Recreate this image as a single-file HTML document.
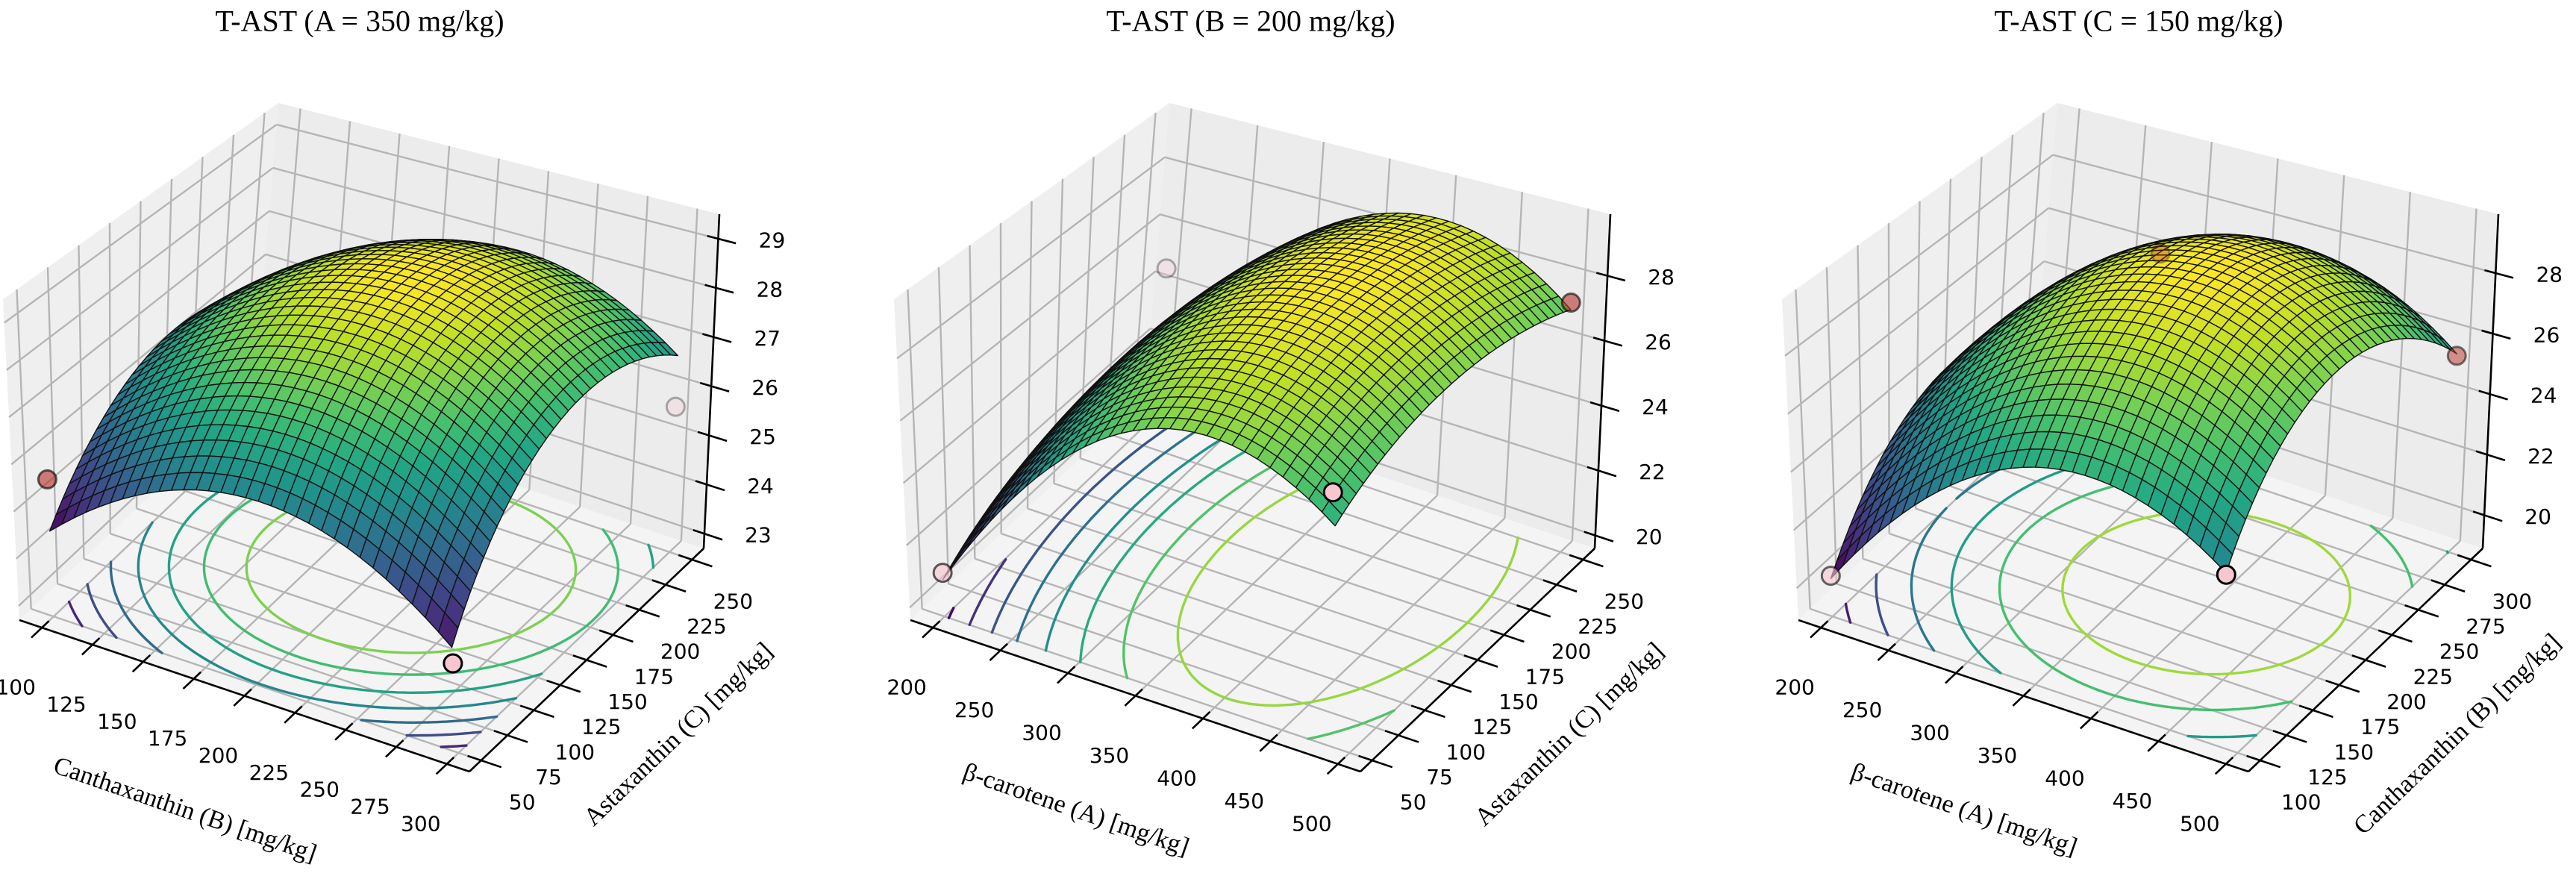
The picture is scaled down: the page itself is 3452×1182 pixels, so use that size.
<!DOCTYPE html>
<html><head><meta charset="utf-8">
<style>html,body{margin:0;padding:0;background:#fff}svg{display:block}</style>
</head><body>
<svg id="chart" width="3452" height="1182" viewBox="0 0 3452 1182" xmlns="http://www.w3.org/2000/svg"></svg>
<script>
// ---------- Panel 1 data ----------
const p1Title = "T-AST (A = 350 mg/kg)";
const p1XLabel = "Canthaxanthin (B) [mg/kg]";
const p1YLabel = "Astaxanthin (C) [mg/kg]";
const p1XRange = [100, 300];
const p1YRange = [50, 250];
const p1ZLim = [22.7, 29.5];
const p1XTicks = [100, 125, 150, 175, 200, 225, 250, 275, 300];
const p1YTicks = [50, 75, 100, 125, 150, 175, 200, 225, 250];
const p1ZTicks = [23, 24, 25, 26, 27, 28, 29];
const p1Coef = [28.75, 0.375, 0.725, -1.84, -1.58, 0.275];
const p1Levels = [24.5, 25, 25.5, 26, 26.5, 27, 27.5, 28];
const p1PtX = [100, 300, 300];
const p1PtY = [50, 250, 50];
const p1PtZ = [25.6, 25.66, 24.4];
const p1PtColor = ["#b5342c", "#f7c6cf", "#f7c6cf"];
// ---------- Panel 2 data ----------
const p2Title = "T-AST (B = 200 mg/kg)";
const p2XLabel = "\u03b2-carotene (A) [mg/kg]";
const p2YLabel = "Astaxanthin (C) [mg/kg]";
const p2XRange = [200, 500];
const p2YRange = [50, 250];
const p2ZLim = [19.6, 29.9];
const p2XTicks = [200, 250, 300, 350, 400, 450, 500];
const p2YTicks = [50, 75, 100, 125, 150, 175, 200, 225, 250];
const p2ZTicks = [20, 22, 24, 26, 28];
const p2Coef = [28.85, 2.6, 0.55, -3.84, -1.0, -0.075];
const p2Levels = [21, 22, 23, 24, 25, 26, 27, 28];
const p2PtX = [200, 200, 500, 500];
const p2PtY = [50, 250, 50, 250];
const p2PtZ = [21.0, 24.7, 27.1, 27.3];
const p2PtColor = ["#f7c6cf", "#f7c6cf", "#f7c6cf", "#b5342c"];
// ---------- Panel 3 data ----------
const p3Title = "T-AST (C = 150 mg/kg)";
const p3XLabel = "\u03b2-carotene (A) [mg/kg]";
const p3YLabel = "Canthaxanthin (B) [mg/kg]";
const p3XRange = [200, 500];
const p3YRange = [100, 300];
const p3ZLim = [18.9, 29.95];
const p3XTicks = [200, 250, 300, 350, 400, 450, 500];
const p3YTicks = [100, 125, 150, 175, 200, 225, 250, 275, 300];
const p3ZTicks = [20, 22, 24, 26, 28];
const p3Coef = [29.6, 2.0, 0.63, -3.64, -3.0, -0.125];
const p3Levels = [21, 22.5, 24, 25.5, 27, 28.5];
const p3PtX = [200, 277, 500, 500];
const p3PtY = [100, 300, 100, 300];
const p3PtZ = [20.3, 26.0, 24.4, 25.4];
const p3PtColor = ["#f7c6cf", "#a82020", "#f7c6cf", "#b5342c"];

const NS = "http://www.w3.org/2000/svg";
const svg = document.getElementById("chart");
function mk(tag, attrs, parent) {
  const el = document.createElementNS(NS, tag);
  for (const k in attrs) el.setAttribute(k, attrs[k]);
  (parent || svg).appendChild(el);
  return el;
}
const VIR = [[68,1,84],[72,36,117],[65,68,135],[53,95,141],[42,120,142],[33,145,140],[34,168,132],[68,191,112],[122,209,81],[189,223,38],[253,231,37]];
function vir(t) {
  t = Math.max(0, Math.min(1, t));
  const x = t * 10, i = Math.min(9, Math.floor(x)), f = x - i;
  const a = VIR[i], b = VIR[i + 1];
  return "rgb(" + [0,1,2].map(k => Math.round(a[k] + (b[k] - a[k]) * f)).join(",") + ")";
}
// box corner geometry (panel frame)
const CL = [26,831], CF = [629,1034], CR = [943,735], CB = [340,532];
const TL = [4,401], TF = [595,550], TR = [964,287], TB = [373,138];

function drawPanel(ox, title, xl, yl, xr, yr, zl, xt, yt, zt, coef, levels, px, py, pz, pc) {
  const g = mk("g", {});
  
  
  function P(u, v, w) {
    const a = (1-u)*(1-v), b = u*(1-v), c = u*v, d = (1-u)*v;
    const bx = a*CL[0]+b*CF[0]+c*CR[0]+d*CB[0], by = a*CL[1]+b*CF[1]+c*CR[1]+d*CB[1];
    const tx = a*TL[0]+b*TF[0]+c*TR[0]+d*TB[0], ty = a*TL[1]+b*TF[1]+c*TR[1]+d*TB[1];
    return [ox + bx + (tx - bx) * w, by + (ty - by) * w];
  }
  const xu = x => 0.05 + 0.9 * (x - xr[0]) / (xr[1] - xr[0]);
  const yv = y => 0.05 + 0.9 * (y - yr[0]) / (yr[1] - yr[0]);
  const zw = z => (z - zl[0]) / (zl[1] - zl[0]);
  const f = (s, t) => coef[0] + coef[1]*s + coef[2]*t + coef[3]*s*s + coef[4]*t*t + coef[5]*s*t;
  const pts = arr => arr.map(p => p[0].toFixed(1) + "," + p[1].toFixed(1)).join(" ");
  const depth = (u, v, w) => 0.433*u - 0.75*v + 0.375*w;

  const floor = mk("polygon", {points: pts([P(0,0,0),P(1,0,0),P(1,1,0),P(0,1,0)]), fill: "#f4f4f4"}, g);
  
  
  const lw = mk("polygon", {points: pts([P(0,0,0),P(0,1,0),P(0,1,1),P(0,0,1)]), fill: "#efefef"}, g);
  
  
  const bw = mk("polygon", {points: pts([P(0,1,0),P(1,1,0),P(1,1,1),P(0,1,1)]), fill: "#ececec"}, g);
  
  

  const gl = (a, b) => {
    const l = mk("line", {x1: a[0], y1: a[1], x2: b[0], y2: b[1], stroke: "#b5b5b5", "stroke-width": 2.4}, g);
    
    
  };
  xt.forEach(x => { const u = xu(x); gl(P(u,0,0), P(u,1,0)); gl(P(u,1,0), P(u,1,1)); });
  yt.forEach(y => { const v = yv(y); gl(P(0,v,0), P(1,v,0)); gl(P(0,v,0), P(0,v,1)); });
  zt.forEach(z => { const w = zw(z); gl(P(0,0,w), P(0,1,w)); gl(P(0,1,w), P(1,1,w)); });

  const al = (a, b, name) => {
    const l = mk("line", {x1: a[0], y1: a[1], x2: b[0], y2: b[1], stroke: "#000", "stroke-width": 2.6}, g);
    
    
  };
  al(P(0,0,0), P(1,0,0), 'x-axis-line');
  al(P(1,0,0), P(1,1,0), 'y-axis-line');
  al(P(1,1,0), P(1,1,1), 'z-axis-line');
  const txt = (x, y, s, name, size, fam, rot) => {
    const t = mk("text", {x: x, y: y, "font-size": size, "font-family": fam, "text-anchor": "middle", "dominant-baseline": "central", fill: "#000"}, g);
    if (rot) t.setAttribute("transform", "rotate(" + rot + " " + x + " " + y + ")");
    t.textContent = s;
    
    
    return t;
  };
  const DJ = "'DejaVu Sans', 'Liberation Sans', sans-serif";
  const SR = "'Liberation Serif', 'DejaVu Serif', serif";
  xt.forEach(x => {
    const u = xu(x);
    al(P(u,0.03,0), P(u,-0.045,0), 'x-tick');
    const p = P(u,0,0);
    txt(p[0] - 35, p[1] + 80, String(x), 'x-tick-label', 28, DJ);
  });
  yt.forEach(y => {
    const v = yv(y);
    al(P(0.97,v,0), P(1.045,v,0), 'y-tick');
    const p = P(1,v,0);
    txt(p[0] + 55, p[1] + 56, String(y), 'y-tick-label', 28, DJ);
  });
  zt.forEach(z => {
    const w = zw(z);
    al(P(0.975,1,w), P(1.04,1,w), 'z-tick');
    const p = P(1,1,w);
    txt(p[0] + 72, p[1] + 2, String(z), 'z-tick-label', 28, DJ);
  });
  txt(ox + 248, 1085, xl, 'x-axis-title', 34, SR, 19);
  txt(ox + 909, 984, yl, 'y-axis-title', 34, SR, -44);

  const N = 32, M = 70;
  let zmin = Infinity, zmax = -Infinity;
  for (let i = 0; i <= M; i++) for (let j = 0; j <= M; j++) {
    const z = f(-1 + 2*i/M, -1 + 2*j/M); zmin = Math.min(zmin, z); zmax = Math.max(zmax, z);
  }
  const cn = z => (z - zmin) / (zmax - zmin);
  const s2u = s => 0.05 + 0.45 * (s + 1);

  const grid = [];
  for (let i = 0; i <= M; i++) { grid.push([]); for (let j = 0; j <= M; j++) grid[i].push(f(-1 + 2*i/M, -1 + 2*j/M)); }
  levels.forEach(lv => {
    let d = "";
    for (let i = 0; i < M; i++) for (let j = 0; j < M; j++) {
      const c = [[i,j],[i+1,j],[i+1,j+1],[i,j+1]];
      const cr = [];
      for (let e = 0; e < 4; e++) {
        const A = c[e], B = c[(e+1)%4];
        const va = grid[A[0]][A[1]], vb = grid[B[0]][B[1]];
        if ((va - lv) * (vb - lv) < 0) {
          const t = (lv - va) / (vb - va);
          const si = A[0] + (B[0]-A[0])*t, sj = A[1] + (B[1]-A[1])*t;
          cr.push(P(s2u(-1 + 2*si/M), s2u(-1 + 2*sj/M), 0));
        }
      }
      for (let k = 0; k + 1 < cr.length; k += 2)
        d += "M" + cr[k][0].toFixed(1) + "," + cr[k][1].toFixed(1) + "L" + cr[k+1][0].toFixed(1) + "," + cr[k+1][1].toFixed(1);
    }
    if (d) {
      const p = mk("path", {d: d, stroke: vir(cn(lv)), "stroke-width": 3.4, fill: "none", "stroke-linecap": "round"}, g);
      
      
    }
  });

  const pd = px.map((x, k) => depth(xu(x), yv(py[k]), zw(pz[k])));
  const dmin = Math.min(...pd), dmax = Math.max(...pd);
  const drawPt = k => {
    const p = P(xu(px[k]), yv(py[k]), zw(pz[k]));
    const a = dmax > dmin ? 0.3 + 0.7 * (pd[k] - dmin) / (dmax - dmin) : 1;
    const c = mk("circle", {cx: p[0], cy: p[1], r: 12, fill: pc[k], "fill-opacity": a, stroke: "#000", "stroke-opacity": a, "stroke-width": 3}, g);
    
    
  };
  px.forEach((x, k) => { if (pd[k] < -0.5) drawPt(k); });

  const cells = [];
  for (let i = 0; i < N; i++) for (let j = 0; j < N; j++) {
    const s0 = -1 + 2*i/N, s1 = -1 + 2*(i+1)/N, t0 = -1 + 2*j/N, t1 = -1 + 2*(j+1)/N;
    const q = [[s0,t0],[s1,t0],[s1,t1],[s0,t1]].map(a => [s2u(a[0]), s2u(a[1]), f(a[0], a[1])]);
    const zav = (q[0][2] + q[1][2] + q[2][2] + q[3][2]) / 4;
    const uc = (q[0][0] + q[1][0]) / 2, vc = (q[0][1] + q[2][1]) / 2;
    cells.push({q: q, z: zav, d: depth(uc, vc, zw(zav))});
  }
  cells.sort((a, b) => a.d - b.d);
  cells.forEach(cl => {
    const poly = mk("polygon", {points: pts(cl.q.map(a => P(a[0], a[1], zw(a[2])))), fill: vir(cn(cl.z)), stroke: "#111", "stroke-width": 1.4, "stroke-linejoin": "round"}, g);
    
    
  });
  px.forEach((x, k) => { if (pd[k] >= -0.5) drawPt(k); });

  txt(ox + 482, 28, title, 'panel-title', 40, SR);
}
drawPanel(0, p1Title, p1XLabel, p1YLabel, p1XRange, p1YRange, p1ZLim, p1XTicks, p1YTicks, p1ZTicks, p1Coef, p1Levels, p1PtX, p1PtY, p1PtZ, p1PtColor);
drawPanel(1194, p2Title, p2XLabel, p2YLabel, p2XRange, p2YRange, p2ZLim, p2XTicks, p2YTicks, p2ZTicks, p2Coef, p2Levels, p2PtX, p2PtY, p2PtZ, p2PtColor);
drawPanel(2384, p3Title, p3XLabel, p3YLabel, p3XRange, p3YRange, p3ZLim, p3XTicks, p3YTicks, p3ZTicks, p3Coef, p3Levels, p3PtX, p3PtY, p3PtZ, p3PtColor);
</script>
</body></html>
